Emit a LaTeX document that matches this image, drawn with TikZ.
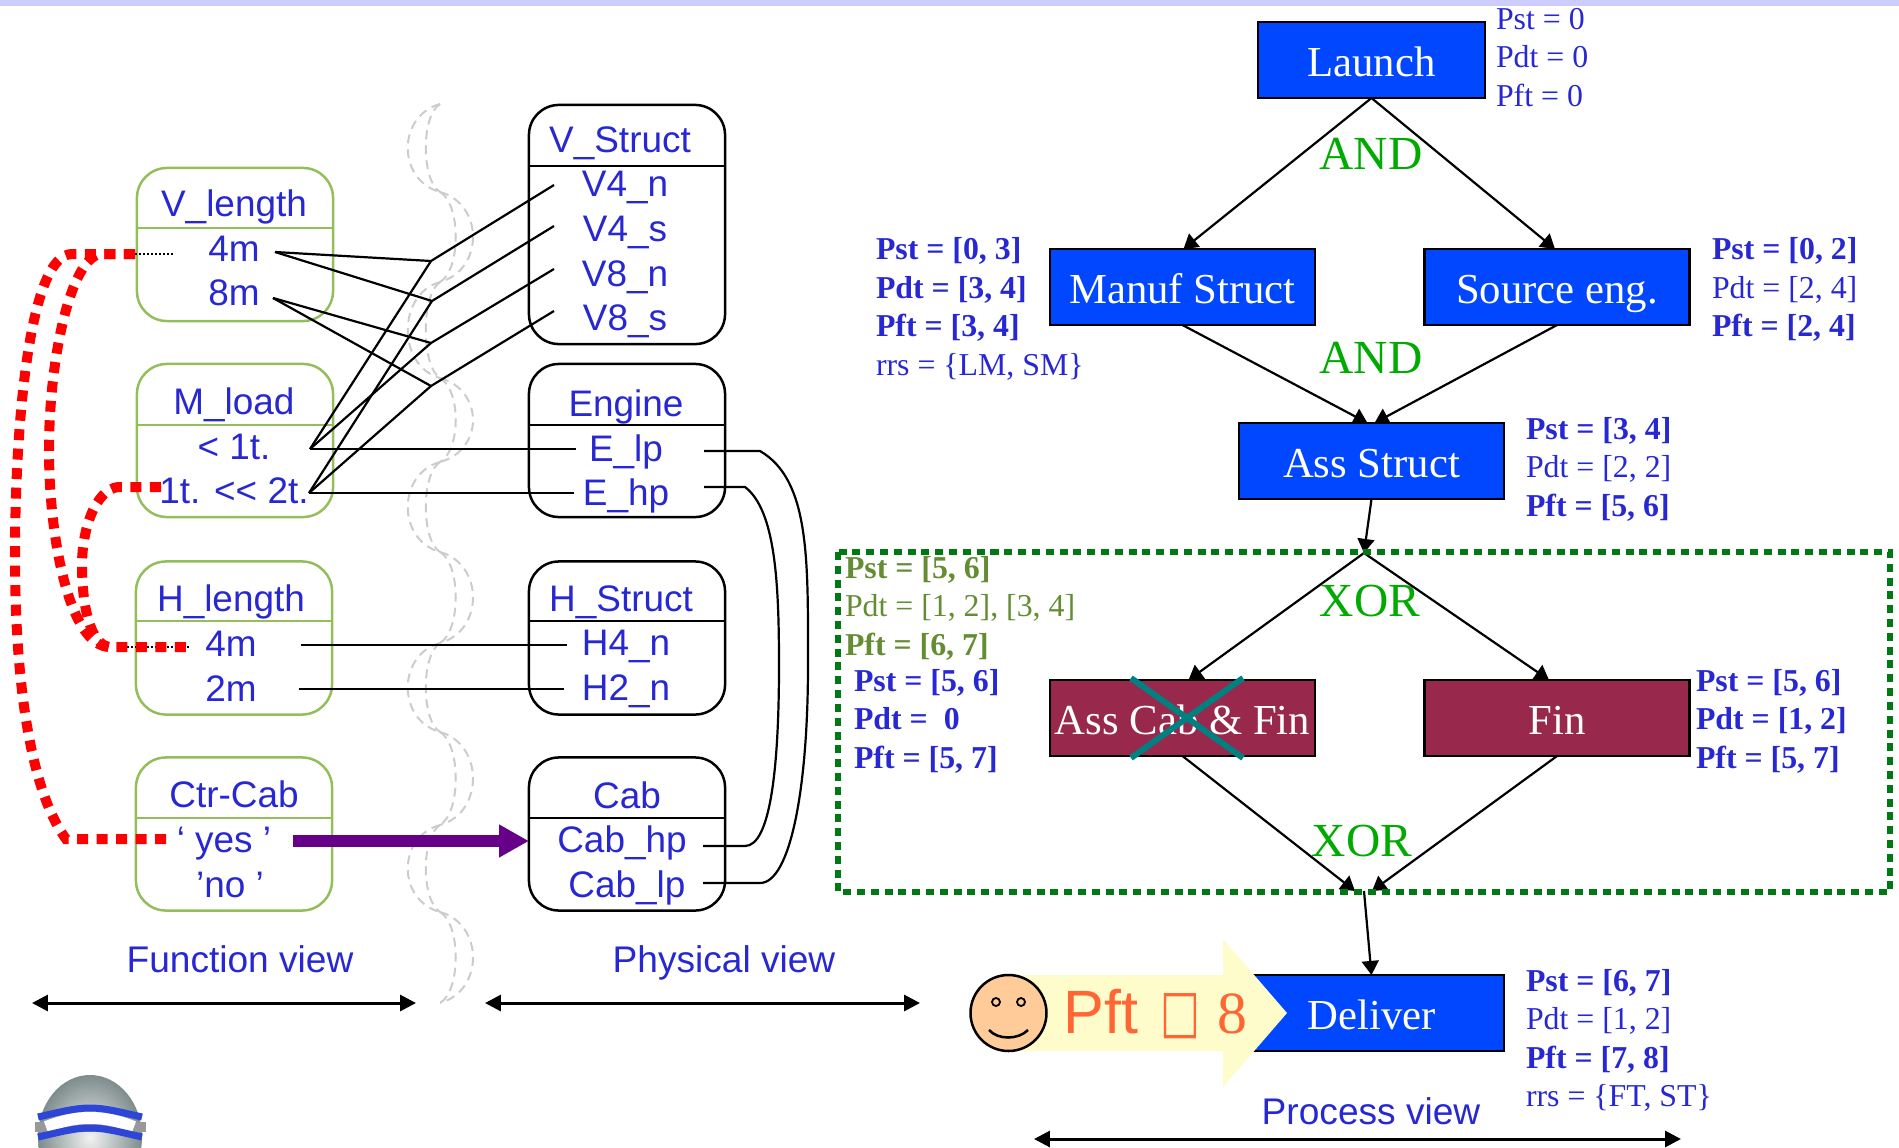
\documentclass[tikz,border=0pt]{standalone}
\usepackage{fontspec}
\setmainfont{Liberation Serif}
\setsansfont{Liberation Sans}
\newfontfamily\symbfont{DejaVu Sans}
\usetikzlibrary{arrows,arrows.meta,positioning}
\definecolor{labelblue}{RGB}{40,40,210}
\definecolor{taskblue}{RGB}{0,71,255}
\definecolor{taskred}{RGB}{152,41,76}
\definecolor{featgreen}{RGB}{147,190,90}
\definecolor{gategreen}{RGB}{0,170,0}
\definecolor{olivetxt}{RGB}{100,140,50}
\definecolor{framegreen}{RGB}{0,120,20}
\definecolor{pftorange}{RGB}{255,102,51}
\definecolor{topband}{RGB}{204,204,255}
\definecolor{linkpurple}{RGB}{102,0,136}
\definecolor{skintone}{RGB}{255,204,153}
\definecolor{logoblue}{RGB}{45,70,215}
\definecolor{logogray}{RGB}{125,140,140}
\tikzset{
    %Define standard arrow tip
    >={Triangle[length=4pt,width=4.8pt]},
    %Define style for boxes
    featbox/.style={
           rectangle,
           rounded corners=0.3cm,
           draw=featgreen, line width=0.025cm,
           minimum width=1.96cm,
           minimum height=1.53cm,
           inner sep=0pt, outer sep=0pt},
    partbox/.style={
           featbox,
           draw=black},
    taskbox/.style={
           rectangle,
           fill=taskblue,
           draw=black, line width=0.025cm,
           text=white,
           font=\fontsize{12.15}{14}\selectfont,
           text height=0.32cm,
           text depth=0pt,
           minimum width=2.65cm,
           minimum height=0.76cm,
           inner sep=0pt, outer sep=0pt},
    cutbox/.style={
           taskbox,
           fill=taskred},
    % Define style for texts
    itemtxt/.style={
           text=labelblue,
           font=\sffamily\fontsize{10.5}{12}\selectfont,
           anchor=base,
           inner sep=0pt},
    viewtxt/.style={
           itemtxt,
           font=\sffamily\fontsize{10.55}{13}\selectfont},
    gatetxt/.style={
           text=gategreen,
           font=\fontsize{13.5}{16}\selectfont,
           inner sep=0pt},
    sidetxt/.style={
           text=labelblue,
           font=\fontsize{9.05}{11}\selectfont,
           text height=0.25cm,
           text depth=0.07cm,
           anchor=west,
           inner sep=0pt, outer sep=0pt},
    sidebold/.style={
           sidetxt,
           font=\bfseries\fontsize{9.05}{11}\selectfont},
    nextrow/.style={
           below=0.065cm of #1.south west,
           anchor=north west},
    % Define arrow style
    flowarr/.style={
           ->,
           line width=0.022cm},
    viewarr/.style={
           {Triangle[length=4.5pt,width=4.5pt]}-{Triangle[length=4.5pt,width=4.5pt]},
           line width=0.03cm},
    wire/.style={
           line width=0.022cm},
    reddash/.style={
           draw=red,
           line width=0.1cm,
           dash pattern=on 0.11cm off 0.085cm},
    thindot/.style={
           line width=0.02cm,
           dash pattern=on 0.02cm off 0.02cm},
    sepline/.style={
           draw=black!20,
           line width=0.02cm,
           dash pattern=on 0.09cm off 0.06cm}
}
\begin{document}
\begin{tikzpicture}[x=0.01cm,y=-0.01cm]
\useasboundingbox (0,0) rectangle (1899,1148);
\fill[topband] (0,0) rectangle (1899,6);

 %separator
\foreach \ya/\yb/\co/\ci in {104/192/-43/-19,192/282/44/21,282/378/-43/-19,378/462/44/21,462/552/-43/-19,
    552/643/44/21,643/732/-43/-19,732/825/44/21,825/912/-43/-19,912/1003/44/21}{
  \draw[sepline] (440,\ya) .. controls (440+\co,\ya+12) and (440+\co,\yb-12) .. (440,\yb);
  \draw[sepline] (440,\ya) .. controls (440+\ci,\ya+12) and (440+\ci,\yb-12) .. (440,\yb);
}

 %function view
\node[featbox](vlen) at (235,244.5){};
\node[featbox](mload) at (235,440.5){};
\node[featbox](hlen) at (234,638){};
\node[featbox](ctrcab) at (234,834){};
\draw[featgreen,line width=0.025cm] (vlen.west |- 0,228) -- (vlen.east |- 0,228);
\draw[featgreen,line width=0.025cm] (mload.west |- 0,425) -- (mload.east |- 0,425);
\draw[featgreen,line width=0.025cm] (hlen.west |- 0,621) -- (hlen.east |- 0,621);
\draw[featgreen,line width=0.025cm] (ctrcab.west |- 0,818) -- (ctrcab.east |- 0,818);
\node[itemtxt](vlentxt) at (234,216){V\_length};
\node[itemtxt](vfour) at (234,261){4m};
\node[itemtxt](veight) at (234,305){8m};
\node[itemtxt](mloadtxt) at (234,414){M\_load};
\node[itemtxt](mone) at (234,459){< 1t.};
\node[itemtxt](mtwo) at (234,503.5){1t. <{}< 2t.};
\node[itemtxt](hlentxt) at (231,611){H\_length};
\node[itemtxt](hfour) at (231,656){4m};
\node[itemtxt](htwo) at (231,701){2m};
\node[itemtxt](ctrtxt) at (234,807){Ctr-Cab};
\node[itemtxt](yes) at (224,852){‘ yes ’};
\node[itemtxt](no) at (230,897){’no ’};

 %physical view
\node[partbox,minimum height=2.39cm](vstruct) at (627,224.5){};
\node[partbox](engine) at (627,440.5){};
\node[partbox](hstruct) at (627,638){};
\node[partbox](cab) at (627,834){};
\draw[line width=0.025cm] (vstruct.west |- 0,166) -- (vstruct.east |- 0,166);
\draw[line width=0.025cm] (engine.west |- 0,425) -- (engine.east |- 0,425);
\draw[line width=0.025cm] (hstruct.west |- 0,621) -- (hstruct.east |- 0,621);
\draw[line width=0.025cm] (cab.west |- 0,818) -- (cab.east |- 0,818);
\node[itemtxt](vstxt) at (620,152){V\_Struct};
\node[itemtxt](vfn) at (625,196.5){V4\_n};
\node[itemtxt](vfs) at (625,241){V4\_s};
\node[itemtxt](ven) at (625,286){V8\_n};
\node[itemtxt](ves) at (625,330){V8\_s};
\node[itemtxt](engtxt) at (626,416){Engine};
\node[itemtxt](elp) at (626,461){E\_lp};
\node[itemtxt](ehp) at (626,505){E\_hp};
\node[itemtxt](hstxt) at (621,611){H\_Struct};
\node[itemtxt](hfn) at (626,655.5){H4\_n};
\node[itemtxt](htn) at (626,700){H2\_n};
\node[itemtxt](cabtxt) at (627,808){Cab};
\node[itemtxt](cabhp) at (622,852){Cab\_hp};
\node[itemtxt](cablp) at (627,897){Cab\_lp};

 %wire ends
\coordinate (foldvfn) at (431,261);
\coordinate (foldvfs) at (432,301);
\coordinate (foldven) at (431,343);
\coordinate (foldves) at (431,386);
\coordinate (vfourr) at (275,252);
\coordinate (veightr) at (273,298);
\coordinate (moner) at (310,449);
\coordinate (mtwor) at (309,493);
\coordinate (vfnl) at (554,185);
\coordinate (vfsl) at (554,226);
\coordinate (venl) at (554,269);
\coordinate (vesl) at (554,311);
\coordinate (elpl) at (576,449);
\coordinate (ehpl) at (574,493);
\coordinate (hfourr) at (301,645);
\coordinate (htwor) at (299,689);
\coordinate (hfnl) at (567,645);
\coordinate (htnl) at (564,689);
\coordinate (elpr) at (704,451);
\coordinate (ehpr) at (704,487);
\coordinate (hpr) at (703,846);
\coordinate (lpr) at (703,883);
\coordinate (yesr) at (293,841);
\coordinate (vfourl) at (135,254);
\coordinate (vfourd) at (174,254);
\coordinate (hfourl) at (191,647);
\coordinate (hfourd) at (127,647);
\coordinate (mtwol) at (161,487);
\coordinate (yesl) at (173,839);

 %wires
\draw[wire] (vfourr) -- (foldvfn) -- (vfnl);
\draw[wire] (vfourr) -- (foldvfs) -- (vfsl);
\draw[wire] (veightr) -- (foldven) -- (venl);
\draw[wire] (veightr) -- (foldves) -- (vesl);
\draw[wire] (moner) -- (foldvfn);
\draw[wire] (moner) -- (foldven);
\draw[wire] (mtwor) -- (foldvfs);
\draw[wire] (mtwor) -- (foldves);
\draw[wire] (moner) -- (elpl);
\draw[wire] (mtwor) -- (ehpl);
\draw[wire] (hfourr) -- (hfnl);
\draw[wire] (htwor) -- (htnl);
\draw[wire] (elpr) -- (760,451) .. controls (810,480) and (808,560) .. (808,665)
    .. controls (808,790) and (790,883) .. (760,883) -- (lpr);
\draw[wire] (ehpr) -- (745,487) .. controls (775,510) and (779,580) .. (779,665)
    .. controls (779,770) and (770,846) .. (745,846) -- (hpr);

 %red links
\draw[thindot] (vfourl) -- (vfourd);
\draw[thindot] (hfourd) -- (hfourl);
\draw[reddash] (vfourl) -- (72,254) .. controls (30,254) and (15,420) .. (15,557)
    .. controls (15,680) and (30,790) .. (66,839) -- (yesl);
\draw[reddash] (vfourl) -- (100,254) .. controls (70,260) and (49,360) .. (49,450)
    .. controls (49,540) and (70,647) .. (110,647) -- (hfourl);
\draw[reddash] (mtwol) -- (118,487) .. controls (95,490) and (82,530) .. (82,565)
    .. controls (82,605) and (90,645) .. (110,647);
\draw[-{Triangle[length=8.5pt,width=8.8pt]},linkpurple,line width=0.12cm] (yesr) -- (cab.west |- 0,841);

 %views
\node[viewtxt](funcview) at (240,972){Function view};
\node[viewtxt](physview) at (724,972){Physical view};
\node[viewtxt](procview) at (1371,1124){Process view};
\coordinate (funca) at (32,1003);
\coordinate (funcb) at (416,1003);
\coordinate (physa) at (485,1003);
\coordinate (physb) at (920,1003);
\coordinate (proca) at (1034,1139);
\coordinate (procb) at (1681,1139);
\draw[viewarr] (funca) -- (funcb);
\draw[viewarr] (physa) -- (physb);
\draw[viewarr] (proca) -- (procb);

 %process nodes
\node[taskbox,minimum width=2.27cm](launch) at (1371.5,60){Launch};
\node[taskbox](manuf) at (1182.5,287){Manuf Struct};
\node[taskbox](source) at (1557,287){Source eng.};
\node[taskbox](assstruct) at (1371.5,461){Ass Struct};
\node[cutbox](asscab) at (1182.5,718){Ass Cab \& Fin};
\node[cutbox](fin) at (1557,718){Fin};
\node[taskbox](deliver) at (1371.5,1013){Deliver};
\node[gatetxt](andone) at (1371,154){AND};
\node[gatetxt](andtwo) at (1371,358){AND};
\node[gatetxt](xorone) at (1370,601){XOR};
\node[gatetxt](xortwo) at (1362,841){XOR};
\coordinate (xorin) at (1364,553);
\coordinate (xorout) at (1364,891);

 \path[flowarr]
    (launch.south) edge ([xshift=0.01cm]manuf.north)
                   edge ([xshift=-0.02cm]source.north)
    (manuf.south) edge ([xshift=-0.04cm]assstruct.north)
    (source.south) edge ([xshift=0.03cm]assstruct.north)
    (assstruct.south) edge (xorin)
    (xorin) edge ([xshift=0.06cm]asscab.north)
            edge ([xshift=-0.08cm]fin.north)
    (asscab.south) edge ([xshift=-0.09cm]xorout)
    (fin.south) edge ([xshift=0.08cm]xorout)
    (xorout) edge (deliver.north);

 %frame and cross
\draw[framegreen,line width=0.06cm,dash pattern=on 0.08cm off 0.058cm] (838,552) rectangle (1890,892);
\draw[teal,line width=0.06cm] (1131,678) -- (1243,758);
\draw[teal,line width=0.06cm] (1243,678) -- (1131,758);

 %side texts
\node[sidetxt](lapst) at (1496,20){Pst = 0};
\node[sidetxt,nextrow=lapst](lapdt){Pdt = 0};
\node[sidetxt,nextrow=lapdt](lapft){Pft = 0};
\node[sidebold](mapst) at (876,250.5){Pst = [0, 3]};
\node[sidebold,nextrow=mapst](mapdt){Pdt = [3, 4]};
\node[sidebold,nextrow=mapdt](mapft){Pft = [3, 4]};
\node[sidetxt,nextrow=mapft](marrs){rrs = \{LM, SM\}};
\node[sidebold](sopst) at (1712,250.5){Pst = [0, 2]};
\node[sidetxt,nextrow=sopst](sopdt){Pdt = [2, 4]};
\node[sidebold,nextrow=sopdt](sopft){Pft = [2, 4]};
\node[sidebold](aspst) at (1526,430){Pst = [3, 4]};
\node[sidetxt,nextrow=aspst](aspdt){Pdt = [2, 2]};
\node[sidebold,nextrow=aspdt](aspft){Pft = [5, 6]};
\node[sidebold,text=olivetxt](xopst) at (845,569){Pst = [5, 6]};
\node[sidetxt,text=olivetxt,nextrow=xopst](xopdt){Pdt = [1, 2], [3, 4]};
\node[sidebold,text=olivetxt,nextrow=xopdt](xopft){Pft = [6, 7]};
\node[sidebold](acpst) at (854,682){Pst = [5, 6]};
\node[sidebold,nextrow=acpst](acpdt){Pdt =\ \ 0};
\node[sidebold,nextrow=acpdt](acpft){Pft = [5, 7]};
\node[sidebold](fipst) at (1696,682){Pst = [5, 6]};
\node[sidebold,nextrow=fipst](fipdt){Pdt = [1, 2]};
\node[sidebold,nextrow=fipdt](fipft){Pft = [5, 7]};
\node[sidebold](depst) at (1526,982){Pst = [6, 7]};
\node[sidetxt,nextrow=depst](depdt){Pdt = [1, 2]};
\node[sidebold,nextrow=depdt](depft){Pft = [7, 8]};
\node[sidetxt,nextrow=depft](derrs){rrs = \{FT, ST\}};

 %finish flag
\fill[yellow!20] (1005,975) -- (1223,975) -- (1223,939) -- (1287,1013) -- (1223,1087) -- (1223,1051) -- (1005,1051) -- cycle;
\draw[fill=skintone,line width=0.025cm] (1008.5,1013) circle (38);
\draw[line width=0.018cm] (996,1002) circle (4);
\draw[line width=0.018cm] (1021,1002) circle (4);
\draw[line width=0.025cm] (989,1030) .. controls (998,1040) and (1018,1040) .. (1028,1030);
\node[inner sep=0pt,anchor=west,text=pftorange](pft) at (1063,1014){\sffamily\fontsize{17.4}{20}\selectfont Pft\hspace{0.36em}%
{\symbfont\fontsize{12}{13}\selectfont\raisebox{0.04em}{\scalebox{1}[1.4]{□}}}\hspace{0.28em}{\rmfamily\fontsize{17}{20}\selectfont 8}};

 %logo
\begin{scope}
\clip (0,0) rectangle (1899,1148);
\shade[inner color=black!5,outer color=logogray] (90,1137) ellipse (52 and 62);
\fill[black!40] (35,1122) rectangle (146,1132);
\draw[white,line width=0.12cm] (46,1127) .. controls (65,1120) and (75,1118) .. (90,1118) .. controls (105,1118) and (115,1120) .. (134,1127);
\draw[logoblue,line width=0.07cm] (38,1117) .. controls (60,1112) and (75,1108) .. (90,1108) .. controls (105,1108) and (120,1112) .. (142,1117);
\draw[logoblue,line width=0.07cm] (38,1137) .. controls (60,1132) and (75,1128) .. (90,1128) .. controls (105,1128) and (120,1132) .. (142,1137);
\end{scope}
\end{tikzpicture}
\end{document}
